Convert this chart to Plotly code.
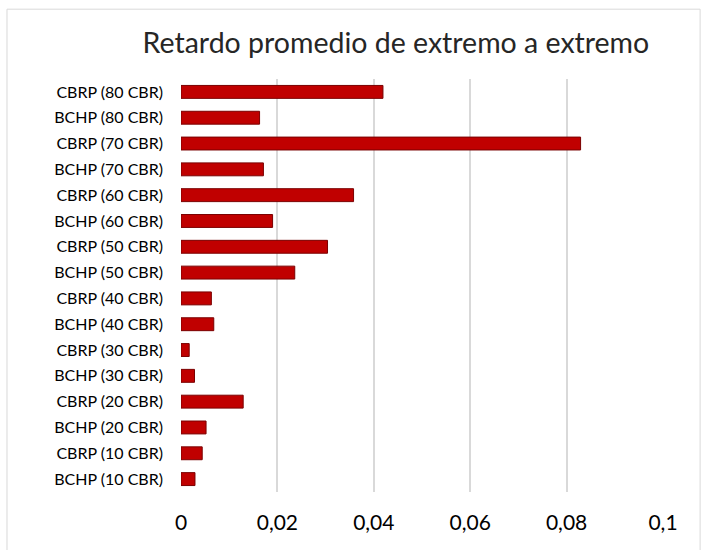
import plotly.graph_objects as go

# Delay per protocol and number of CBRs, listed bottom to top
categories = [
    "BCHP (10 CBR)", "CBRP (10 CBR)",
    "BCHP (20 CBR)", "CBRP (20 CBR)",
    "BCHP (30 CBR)", "CBRP (30 CBR)",
    "BCHP (40 CBR)", "CBRP (40 CBR)",
    "BCHP (50 CBR)", "CBRP (50 CBR)",
    "BCHP (60 CBR)", "CBRP (60 CBR)",
    "BCHP (70 CBR)", "CBRP (70 CBR)",
    "BCHP (80 CBR)", "CBRP (80 CBR)",
]
delays = [
    0.0029, 0.0044,
    0.0052, 0.0129,
    0.0028, 0.0017,
    0.0068, 0.0063,
    0.0236, 0.0304,
    0.0190, 0.0358,
    0.0171, 0.0829,
    0.0163, 0.0419,
]
tick_values = [0, 0.02, 0.04, 0.06, 0.08, 0.1]
tick_labels = ["0", "0,02", "0,04", "0,06", "0,08", "0,1"]

fig = go.Figure()
fig.add_trace(go.Bar(
    x=delays,
    y=categories,
    orientation="h",
    width=0.5,
    marker=dict(color="#C00000", line=dict(color="#7A0000", width=1)),
    hoverinfo="x+y",
))

fig.update_layout(
    width=707,
    height=550,
    margin=dict(l=181, r=44, t=79, b=58),
    paper_bgcolor="white",
    plot_bgcolor="white",
    showlegend=False,
    title=dict(
        text="Retardo promedio de extremo a extremo",
        x=0.56, xanchor="center",
        y=0.922, yanchor="middle",
        font=dict(family="Lato", size=28.5, color="#262626"),
    ),
    xaxis=dict(
        range=[0, 0.1],
        tickvals=tick_values,
        ticktext=tick_labels,
        showgrid=True,
        gridcolor="#D9D9D9",
        gridwidth=2,
        zeroline=False,
        showline=False,
        ticks="",
        ticklabelstandoff=16,
        tickfont=dict(family="Lato", size=21, color="#000000"),
    ),
    yaxis=dict(
        categoryorder="array",
        categoryarray=categories,
        range=[-0.5, 15.5],
        showgrid=False,
        zeroline=False,
        showline=False,
        ticks="",
        ticklabelstandoff=17,
        tickfont=dict(family="Lato", size=16, color="#000000"),
    ),
    shapes=[dict(
        type="rect", xref="paper", yref="paper",
        x0=-0.361, x1=1.077, y0=-0.3, y1=1.169,
        line=dict(color="#D9D9D9", width=1),
        fillcolor="rgba(0,0,0,0)",
        layer="below",
    )],
)

fig.write_html("out.html")
